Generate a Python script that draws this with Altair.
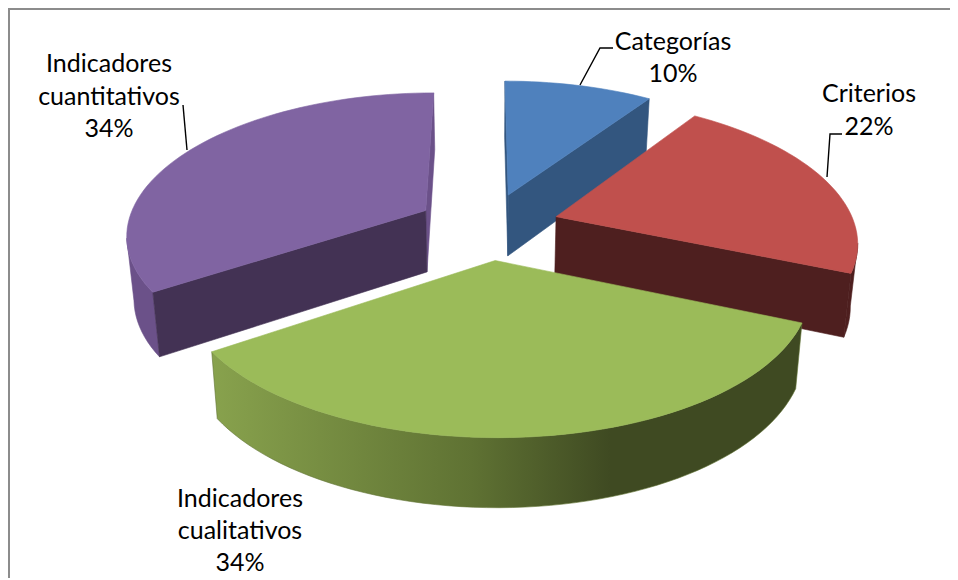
import math
import altair as alt
import pandas as pd

# ---- chart values -------------------------------------------------------
categories = ["Categorías", "Criterios", "Indicadores cualitativos", "Indicadores cuantitativos"]
# slice sizes as measured on the picture (the printed labels are in label_lines)
shares = [9.5, 21.9, 34.2, 34.4]
label_lines = [["Categorías", "10%"], ["Criterios", "22%"],
               ["Indicadores", "cualitativos", "34%"], ["Indicadores", "cuantitativos", "34%"]]
top_colors = ["#4f81bd", "#c0504d", "#9bbb59", "#8064a2"]
cut_colors = ["#33567f", "#4e1f1f", "#3f4a22", "#433254"]
wall_colors = ["#33567f", "#4e1f1f", "#3f4a22", "#6b5189"]

# ---- camera of the 3-D pie ----------------------------------------------
K, KX, EXPLODE, A, XV, X0, D, YV = 0.1486, 0.16, 0.24, 299, 484, 488, 938, -712
DEPTH, DEPTH_POW, TAPER = 62, 0.6, 0.98
X_DOM, Y_DOM, W, H = [8, 950], [8, 578], 942, 570
XS = alt.Scale(domain=X_DOM, nice=False, zero=False, padding=0)
YS = alt.Scale(domain=Y_DOM, reverse=True, nice=False, zero=False, padding=0)


def project(X, Y):
    return XV + (X0 - XV + A * X) / (1 + KX * Y), YV + D / (1 + K * Y), 1 + K * Y


def drop(p):
    x, y, w = p
    return X0 + (x - X0) * TAPER, y + DEPTH / w ** DEPTH_POW


def flat(p):
    return p[0], p[1]


def layer(points, fill, stroke=None):
    df = pd.DataFrame({"px": [p[0] for p in points] + [points[0][0]],
                       "py": [p[1] for p in points] + [points[0][1]]})
    df["i"] = range(len(df))
    return alt.Chart(df).mark_line(fill=fill, stroke=stroke or fill, strokeWidth=0.6).encode(
        x=alt.X("px:Q", scale=XS, axis=None),
        y=alt.Y("py:Q", scale=YS, axis=None),
        order="i:Q",
    )


green_wall = alt.Gradient(
    gradient="linear", x1=0, x2=1, y1=0, y2=0,
    stops=[alt.GradientStop(offset=0, color="#88a24d"),
           alt.GradientStop(offset=0.44, color="#5f7233"),
           alt.GradientStop(offset=0.675, color="#3f4a22"),
           alt.GradientStop(offset=1, color="#3f4a22")],
)

slices = {}
cum = 0
for i, s in enumerate(shares):
    a0 = cum / 100 * 360
    a1 = (cum + s) / 100 * 360
    mid = math.radians((a0 + a1) / 2)
    ox, oy = EXPLODE * math.sin(mid), EXPLODE * math.cos(mid)
    n = max(8, int((a1 - a0) / 2))
    arc = []
    for j in range(n + 1):
        t = math.radians(a0 + (a1 - a0) * j / n)
        arc.append(project(ox + math.sin(t), oy + math.cos(t)))
    slices[i] = (project(ox, oy), arc)
    cum += s


def faces(i):
    apex, arc = slices[i]
    # the outer wall is only seen between the pie's extreme point and the front
    xs = [p[0] for p in arc]
    if i == 1:
        seen = arc[xs.index(max(xs)):]
    elif i == 3:
        seen = arc[:xs.index(min(xs)) + 1]
    else:
        seen = arc
    wall = [flat(p) for p in seen] + [drop(p) for p in reversed(seen)]
    cut_start = [flat(apex), flat(arc[0]), drop(arc[0]), drop(apex)]
    cut_end = [flat(apex), flat(arc[-1]), drop(arc[-1]), drop(apex)]
    top = [flat(apex)] + [flat(p) for p in arc]
    return wall, cut_start, cut_end, top


layers = []
wall, cs, ce, top = faces(0)
layers += [layer(cs, cut_colors[0]), layer(ce, cut_colors[0]), layer(top, top_colors[0])]
wall, cs, ce, top = faces(1)
layers += [layer(wall, wall_colors[1]), layer(ce, cut_colors[1]), layer(top, top_colors[1])]
wall, cs, ce, top = faces(3)
layers += [layer(wall, wall_colors[3]), layer(ce, wall_colors[3]), layer(cs, cut_colors[3]), layer(top, top_colors[3])]
wall, cs, ce, top = faces(2)
layers += [layer(wall, green_wall, "#5f7233"), layer(top, top_colors[2])]

# ---- frame --------------------------------------------------------------
frame = pd.DataFrame({"px": [950, 9, 9], "py": [9, 9, 578], "i": [0, 1, 2]})
layers.append(alt.Chart(frame).mark_line(color="#8c8c8c", strokeWidth=2).encode(
    x=alt.X("px:Q", scale=XS, axis=None),
    y=alt.Y("py:Q", scale=YS, axis=None),
    order="i:Q"))

# ---- leader lines and labels --------------------------------------------
leaders = [[(580, 85), (600, 48), (613, 48)],
           [(827, 177), (830, 134), (842, 134)],
           [(187, 150), (183, 105)]]
for k, pts in enumerate(leaders):
    df = pd.DataFrame({"px": [p[0] for p in pts], "py": [p[1] for p in pts], "i": range(len(pts))})
    layers.append(alt.Chart(df).mark_line(color="#000000", strokeWidth=1.4).encode(
        x=alt.X("px:Q", scale=XS, axis=None),
        y=alt.Y("py:Q", scale=YS, axis=None),
        order="i:Q"))

label_xy = [(673, 42), (869, 94), (240, 499), (109, 64)]
line_gap = [32, 33, 32, 32.5]
rows = []
for lines, (lx, ly), gap in zip(label_lines, label_xy, line_gap):
    for n, text in enumerate(lines):
        rows.append({"px": lx, "py": ly + n * gap, "t": text})
layers.append(alt.Chart(pd.DataFrame(rows)).mark_text(
    font="Lato", fontSize=25, color="#000000", align="center", baseline="middle").encode(
    x=alt.X("px:Q", scale=XS, axis=None),
    y=alt.Y("py:Q", scale=YS, axis=None),
    text="t:N"))

chart = alt.layer(*layers).properties(
    width=W, height=H, padding=0, background="#ffffff",
    autosize=alt.AutoSizeParams(type="none"),
).configure_view(stroke=None)
chart.save("out.html", embed_options={"renderer": "svg", "actions": False})
